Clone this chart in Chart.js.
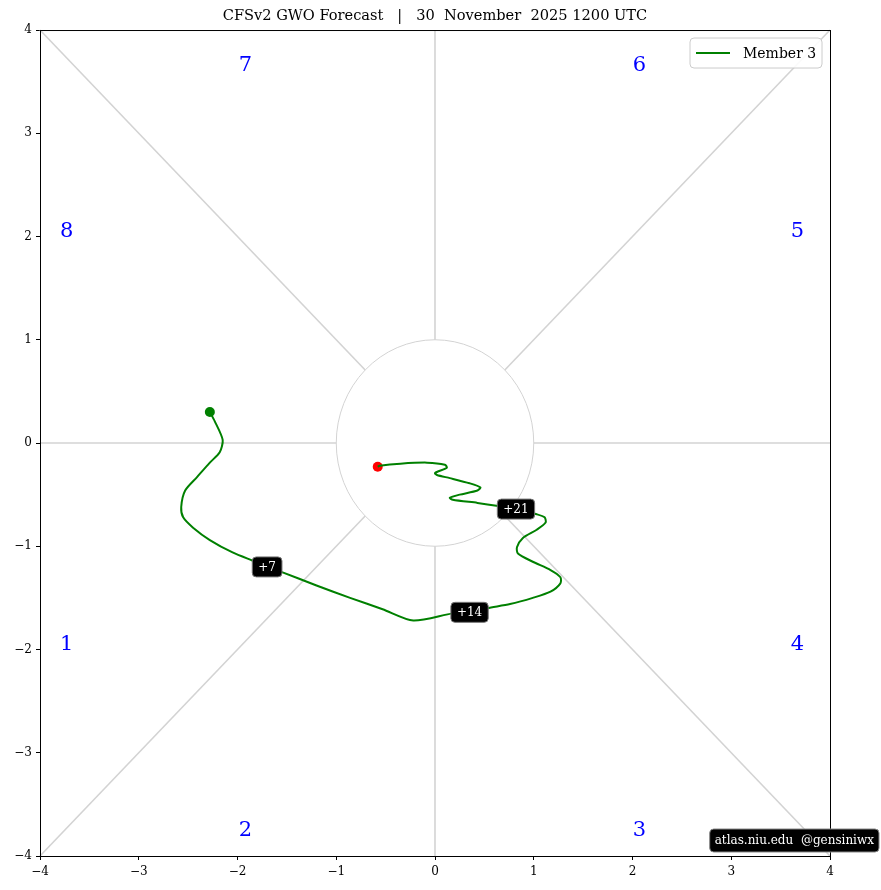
<!DOCTYPE html>
<html>
<head>
<meta charset="utf-8">
<script src="https://cdn.jsdelivr.net/npm/chart.js@4.4.1/dist/chart.umd.min.js"></script>
<style>
  html, body { margin: 0; padding: 0; background: #fff; }
  canvas { display: block; }
</style>
</head>
<body>
<canvas id="gwo" width="881" height="890"></canvas>
<script>
// Data - GWO trajectory (start -> end)
const gwoX = [-2.28, -2.23, -2.15, -2.18, -2.28, -2.41, -2.53, -2.57, -2.55, -2.45, -2.28, -2.05, -1.82, -1.70,
    -1.55, -1.20, -0.86, -0.53, -0.22, 0.18, 0.35, 0.53, 0.76, 0.99, 1.17, 1.27, 1.27, 1.17, 0.99, 0.84,
    0.83, 0.89, 1.03, 1.12, 1.11, 1.03, 0.82, 0.64, 0.43, 0.18, 0.15, 0.25, 0.43, 0.46, 0.35, 0.15,
    0.02, 0.00, 0.12, 0.10, -0.08, -0.35, -0.56, -0.58];
const gwoY = [0.30, 0.21, 0.03, -0.09, -0.19, -0.33, -0.46, -0.62, -0.72, -0.82, -0.94, -1.06, -1.15, -1.20,
    -1.25, -1.38, -1.50, -1.61, -1.72, -1.65, -1.64, -1.60, -1.56, -1.50, -1.44, -1.36, -1.30, -1.23, -1.15, -1.07,
    -1.01, -0.92, -0.84, -0.77, -0.72, -0.69, -0.64, -0.61, -0.58, -0.55, -0.53, -0.50, -0.46, -0.43, -0.39, -0.34,
    -0.31, -0.29, -0.24, -0.21, -0.19, -0.20, -0.22, -0.23];

const leadLabels = ['+7', '+14', '+21'];
const leadIndex = [13, 20, 36];

const phaseNames = ['1', '2', '3', '4', '5', '6', '7', '8'];
const phaseX = [-3.73, -1.92, 2.07, 3.67, 3.67, 2.07, -1.92, -3.73];
const phaseY = [-1.95, -3.75, -3.75, -1.95, 2.05, 3.66, 3.66, 2.05];

const tickValues = [-4, -3, -2, -1, 0, 1, 2, 3, 4];

const titleText = 'CFSv2 GWO Forecast   |   30  November  2025 1200 UTC';
const memberName = 'Member 3';
const creditText = 'atlas.niu.edu  @gensiniwx';

// Colors
const GREEN = '#008000';
const RED = '#ff0000';
const GUIDE = '#d3d3d3';
const FONT = "'DejaVu Serif', serif";

const pathPoints = gwoX.map((x, i) => ({ x: x, y: gwoY[i] }));

function roundBox(ctx, x, y, w, h, r) {
    ctx.beginPath();
    ctx.roundRect(x, y, w, h, r);
}

// background: phase space guides, labels, legend, credit
const guidePlugin = {
    id: 'guides',
    beforeDatasetsDraw(chart) {
        const { ctx, scales: { x, y } } = chart;
        ctx.save();
        ctx.strokeStyle = GUIDE;
        ctx.lineWidth = 1.6;
        const dirs = [[1, 0], [0, 1], [-1, 0], [0, -1], [1, 1], [-1, 1], [-1, -1], [1, -1]];
        dirs.forEach(d => {
            const n = Math.hypot(d[0], d[1]);
            ctx.beginPath();
            ctx.moveTo(x.getPixelForValue(d[0] / n), y.getPixelForValue(d[1] / n));
            ctx.lineTo(x.getPixelForValue(d[0] * 4), y.getPixelForValue(d[1] * 4));
            ctx.stroke();
        });
        ctx.lineWidth = 1;
        const cx = x.getPixelForValue(0), cy = y.getPixelForValue(0);
        ctx.beginPath();
        ctx.ellipse(cx, cy, x.getPixelForValue(1) - cx, cy - y.getPixelForValue(1), 0, 0, Math.PI * 2);
        ctx.stroke();

        ctx.fillStyle = '#0000ff';
        ctx.font = '21px ' + FONT;
        ctx.textAlign = 'center';
        ctx.textBaseline = 'middle';
        phaseNames.forEach((p, i) => {
            ctx.fillText(p, x.getPixelForValue(phaseX[i]), y.getPixelForValue(phaseY[i]));
        });
        ctx.restore();
    },
    afterDatasetsDraw(chart) {
        const { ctx } = chart;
        const meta = chart.getDatasetMeta(0);
        ctx.save();
        ctx.font = '12px ' + FONT;
        ctx.textAlign = 'center';
        ctx.textBaseline = 'middle';
        leadIndex.forEach((idx, i) => {
            const pt = meta.data[idx];
            const w = ctx.measureText(leadLabels[i]).width + 12;
            const h = 20;
            roundBox(ctx, pt.x - w / 2, pt.y - h / 2, w, h, 4);
            ctx.fillStyle = '#000';
            ctx.fill();
            ctx.strokeStyle = '#777';
            ctx.lineWidth = 1;
            ctx.stroke();
            ctx.fillStyle = '#fff';
            ctx.fillText(leadLabels[i], pt.x, pt.y + 1);
        });
        ctx.restore();
    },
    afterDraw(chart) {
        const { ctx, chartArea: a } = chart;
        ctx.save();
        // frame
        ctx.strokeStyle = '#000';
        ctx.lineWidth = 1;
        ctx.strokeRect(a.left + 0.5, a.top + 0.5, a.right - a.left, a.bottom - a.top);

        // legend
        ctx.font = '14px ' + FONT;
        const lw = 132, lh = 30;
        const lx = a.right - 8 - lw, ly = a.top + 8;
        roundBox(ctx, lx, ly, lw, lh, 4);
        ctx.fillStyle = 'rgba(255,255,255,0.9)';
        ctx.fill();
        ctx.strokeStyle = '#cccccc';
        ctx.stroke();
        ctx.strokeStyle = GREEN;
        ctx.lineWidth = 2;
        ctx.beginPath();
        ctx.moveTo(lx + 6, ly + lh / 2);
        ctx.lineTo(lx + 40, ly + lh / 2);
        ctx.stroke();
        ctx.fillStyle = '#000';
        ctx.textBaseline = 'middle';
        ctx.textAlign = 'left';
        ctx.fillText(memberName, lx + 53, ly + lh / 2 + 1);

        // credit
        ctx.font = '12px ' + FONT;
        const cw = ctx.measureText(creditText).width + 10;
        const cx = 879 - cw, cy = 829;
        roundBox(ctx, cx, cy, cw, 23, 4);
        ctx.fillStyle = '#000';
        ctx.fill();
        ctx.strokeStyle = '#888';
        ctx.lineWidth = 1;
        ctx.stroke();
        ctx.fillStyle = '#fff';
        ctx.fillText(creditText, cx + 5, cy + 12);
        ctx.restore();
    }
};

const axisTick = v => (v < 0 ? '\u2212' + Math.abs(v) : String(v));

function axisOptions(isX) {
    return {
        type: 'linear',
        min: tickValues[0],
        max: tickValues[tickValues.length - 1],
        afterBuildTicks: s => { s.ticks = tickValues.map(v => ({ value: v })); },
        afterFit: s => { if (isX) s.height = 34; else s.width = 40; },
        border: { display: false },
        grid: { drawOnChartArea: false, drawTicks: true, tickLength: 4, color: '#000' },
        ticks: {
            color: '#000',
            padding: isX ? 5 : 4,
            font: { family: FONT, size: 12 },
            callback: axisTick
        }
    };
}

new Chart(document.getElementById('gwo'), {
    type: 'scatter',
    data: {
        datasets: [
            {
                label: memberName,
                data: pathPoints,
                showLine: true,
                borderColor: GREEN,
                borderWidth: 2,
                pointRadius: 0,
                tension: 0.25
            },
            {
                label: 'start',
                data: [pathPoints[0]],
                backgroundColor: GREEN,
                borderWidth: 0,
                pointRadius: 5
            },
            {
                label: 'end',
                data: [pathPoints[pathPoints.length - 1]],
                backgroundColor: RED,
                borderWidth: 0,
                pointRadius: 5
            }
        ]
    },
    options: {
        responsive: false,
        animation: false,
        layout: { padding: { left: 0, right: 51, top: 0, bottom: 0 } },
        scales: {
            x: axisOptions(true),
            y: axisOptions(false)
        },
        plugins: {
            legend: { display: false },
            tooltip: { enabled: false },
            title: {
                display: true,
                fullSize: false,
                text: titleText,
                color: '#000',
                font: { family: FONT, size: 14.6, weight: 'normal', lineHeight: 1.2 },
                padding: { top: 7, bottom: 5.5 }
            }
        }
    },
    plugins: [guidePlugin]
});
</script>
</body>
</html>
